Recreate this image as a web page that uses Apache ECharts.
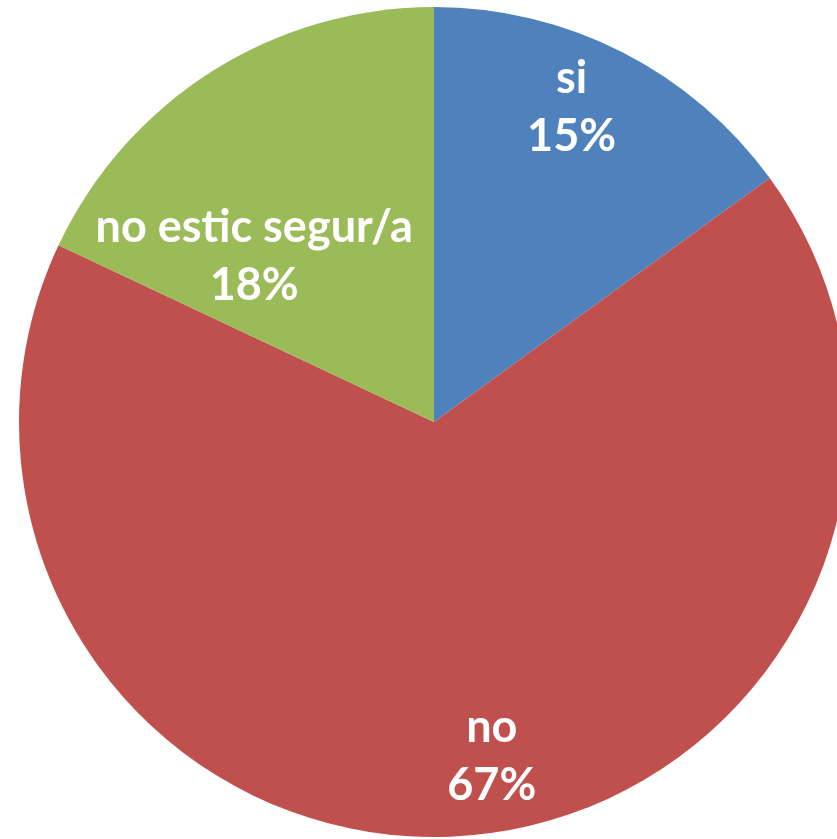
<!DOCTYPE html>
<html>
<head>
<meta charset="utf-8">
<script src="https://cdn.jsdelivr.net/npm/echarts@6/dist/echarts.min.js"></script>
<style>
  html, body { margin: 0; padding: 0; background: #fff; }
  #chart { width: 837px; height: 839px; }
</style>
</head>
<body>
<div id="chart"></div>
<script>
var categories = ['si', 'no', 'no estic segur/a'];
var shares = [15, 67, 18];
var colors = ['#4F81BD', '#C0504D', '#9BBB59'];
// nudges the inside labels to where the original puts them
var labelOffsets = [[42, -127], [38, 125], [-67, 12]];

var seriesData = [];
for (var i = 0; i < categories.length; i++) {
    seriesData.push({
        name: categories[i],
        value: shares[i],
        itemStyle: { color: colors[i] },
        label: { offset: labelOffsets[i] }
    });
}

var chart = echarts.init(document.getElementById('chart'));
chart.setOption({
    animation: false,
    series: [{
        type: 'pie',
        center: [434, 422],
        radius: 415,
        startAngle: 90,
        clockwise: true,
        data: seriesData,
        label: {
            show: true,
            position: 'inside',
            color: '#fff',
            fontFamily: 'Lato',
            fontWeight: 'bold',
            fontSize: 45,
            lineHeight: 58,
            align: 'center',
            formatter: function (p) {
                return p.name + '\n' + Math.round(p.percent) + '%';
            }
        },
        labelLine: { show: false },
        itemStyle: { borderWidth: 0 }
    }]
});
</script>
</body>
</html>
